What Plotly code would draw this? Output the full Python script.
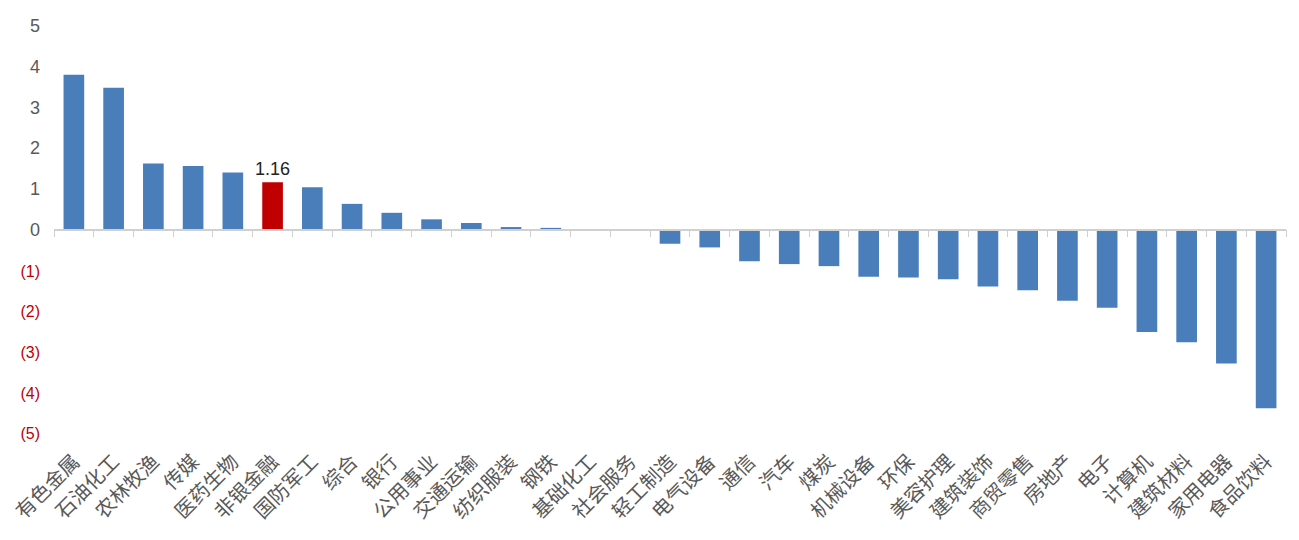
import plotly.graph_objects as go

categories = ["有色金属", "石油化工", "农林牧渔", "传媒", "医药生物", "非银金融", "国防军工", "综合",
              "银行", "公用事业", "交通运输", "纺织服装", "钢铁", "基础化工", "社会服务", "轻工制造",
              "电气设备", "通信", "汽车", "煤炭", "机械设备", "环保", "美容护理", "建筑装饰",
              "商贸零售", "房地产", "电子", "计算机", "建筑材料", "家用电器", "食品饮料"]
values = [3.80, 3.48, 1.62, 1.56, 1.40, 1.16, 1.04, 0.63,
          0.41, 0.25, 0.16, 0.06, 0.04, 0.0, 0.0, -0.35,
          -0.44, -0.78, -0.85, -0.90, -1.16, -1.18, -1.22, -1.40,
          -1.49, -1.75, -1.92, -2.52, -2.77, -3.29, -4.39]
highlight = "非银金融"
y_tickvals = [5, 4, 3, 2, 1, 0, -1, -2, -3, -4, -5]
y_ticktext = ["5", "4", "3", "2", "1", "0", "(1)", "(2)", "(3)", "(4)", "(5)"]

BLUE = "#4a7ebb"
RED = "#c00000"

colors = [RED if c == highlight else BLUE for c in categories]
texts = [f"{v:.2f}" if c == highlight else "" for c, v in zip(categories, values)]

ticktext_styled = [
    (f"<span style='color:{RED};font-size:16px'>{t}</span>" if v < 0 else t)
    for t, v in zip(y_ticktext, y_tickvals)
]
x_range = [-0.5, len(categories) - 0.5]

fig = go.Figure()
fig.add_trace(go.Bar(
    x=categories, y=values, marker=dict(color=colors, line=dict(width=0)),
    text=texts, textposition="outside", cliponaxis=False, constraintext="none",
    textfont=dict(size=18, color="#222222", family="Liberation Sans"),
    xaxis="x", yaxis="y", showlegend=False,
))
# invisible trace to carry the bottom label axis
fig.add_trace(go.Bar(
    x=categories, y=values, marker=dict(opacity=0),
    xaxis="x2", yaxis="y", showlegend=False, hoverinfo="skip",
))

fig.update_layout(
    width=1299, height=540,
    margin=dict(l=46, r=21, t=18, b=115),
    paper_bgcolor="white", plot_bgcolor="white",
    bargap=0.48,
    font=dict(family="Noto Sans CJK SC", color="#595959"),
    xaxis=dict(
        type="category", anchor="free", position=0.5, automargin=False,
        range=x_range,
        showline=True, linecolor="#d0d0d0", linewidth=1.5,
        ticks="outside", ticklen=7, tickcolor="#d0d0d0", tickwidth=1,
        tickson="boundaries", showticklabels=False, showgrid=False,
        zeroline=False,
    ),
    xaxis2=dict(
        type="category", overlaying="x", anchor="y", side="bottom",
        automargin=False, range=x_range,
        showline=False, ticks="", showgrid=False, zeroline=False,
        tickangle=-45, ticklabelstandoff=12,
        tickfont=dict(size=20, color="#595959", family="Noto Sans CJK SC"),
    ),
    yaxis=dict(
        range=[-5, 5], tickvals=y_tickvals, ticktext=ticktext_styled, automargin=False,
        showgrid=False, zeroline=False, showline=False,
        tickfont=dict(size=18, color="#595959", family="Liberation Sans"),
        ticklabelstandoff=13,
    ),
)

fig.write_html("out.html")
